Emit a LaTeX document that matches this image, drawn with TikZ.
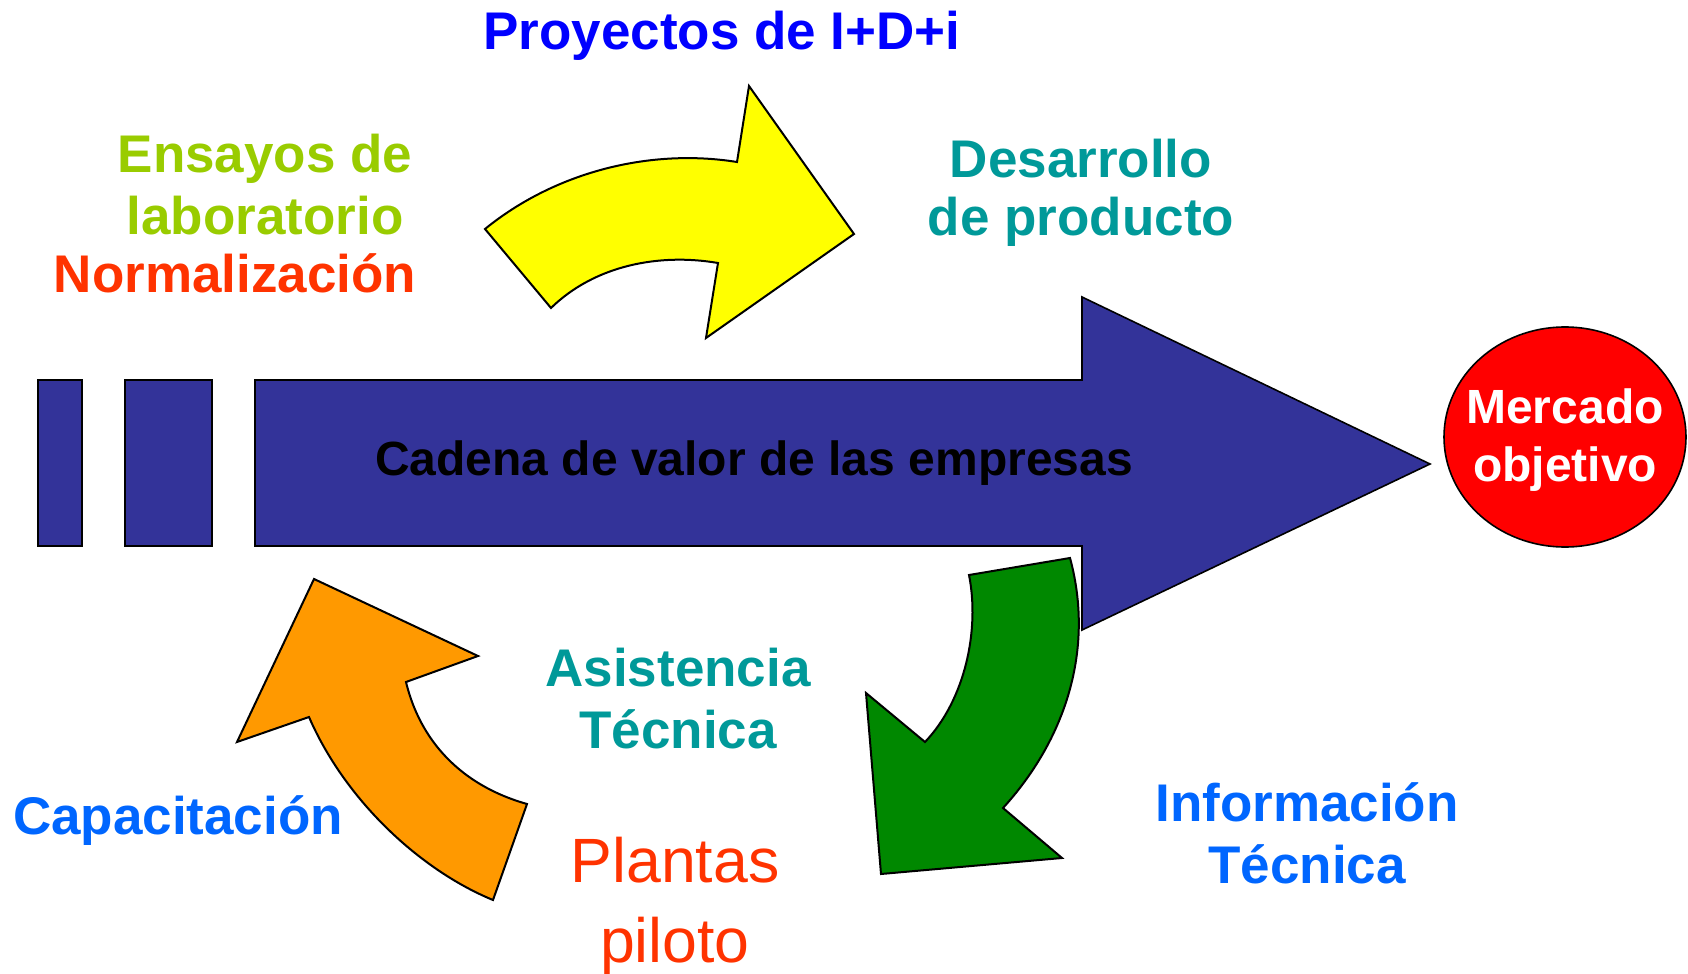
\documentclass[tikz,border=0pt]{standalone}
\usepackage{fontspec}
\setmainfont{Liberation Sans}
\definecolor{azulcad}{HTML}{333399}
\definecolor{verdeflecha}{HTML}{008800}
\definecolor{naranja}{HTML}{FF9900}
\definecolor{amarillo}{HTML}{FFFF00}
\definecolor{rojomer}{HTML}{FF0000}
\definecolor{azulpro}{HTML}{0000FF}
\definecolor{verdelima}{HTML}{99CC00}
\definecolor{rojonorm}{HTML}{FF3300}
\definecolor{turquesa}{HTML}{009999}
\definecolor{celeste}{HTML}{0066FF}

\begin{document}
\begin{tikzpicture}[x=0.5pt, y=-0.5pt,
  contorno/.style={draw=black, line width=1pt, line join=miter},
  rotulo/.style={font=\bfseries\fontsize{26.5}{31}\selectfont, align=center, inner sep=0pt}]
\useasboundingbox (0,0) rectangle (1688,974);

% cadena de valor
\filldraw[contorno, line width=0.8pt, fill=azulcad] (38,380) rectangle (82,546);
\filldraw[contorno, line width=0.8pt, fill=azulcad] (125,380) rectangle (212,546);
\filldraw[contorno, line width=0.8pt, fill=azulcad] (255,380) -- (1082,380) -- (1082,297)
    -- (1430,464) -- (1082,630) -- (1082,546) -- (255,546) -- cycle;

% flechas curvas
\filldraw[contorno, fill=amarillo] (485,229) .. controls (555,172) and (650,148) .. (737,162)
    -- (749,86) -- (854,234) -- (706,338) -- (718,263)
    .. controls (660,253) and (595,265) .. (551,308) -- cycle;
\filldraw[contorno, fill=verdeflecha] (1070,558) -- (969,575)
    .. controls (980,630) and (965,700) .. (925,742)
    -- (866,693) -- (881,874) -- (1062,858) -- (1003,808)
    .. controls (1065,740) and (1095,650) .. (1070,558) -- cycle;
\filldraw[contorno, fill=naranja] (314,579) -- (478,656) -- (406,682)
    .. controls (420,740) and (460,785) .. (527,804)
    -- (493,900) .. controls (420,870) and (345,800) .. (309,717)
    -- (237,742) -- cycle;

\filldraw[contorno, line width=0.8pt, fill=rojomer] (1565,437) ellipse [x radius=121, y radius=110];
\node[rotulo, text=white, font=\bfseries\fontsize{24}{29}\selectfont] (mercado) at (1565,440) {Mercado\\objetivo};

\node[rotulo, font=\bfseries\fontsize{24}{29}\selectfont] (cadena) at (754,463) {Cadena de valor de las empresas};
\node[rotulo, text=azulpro] (proyectos) at (722,36) {Proyectos de I+D+i};
\node[rotulo, text=verdelima] (ensayos) at (265,185) {Ensayos de\\laboratorio};
\node[rotulo, text=rojonorm] (normalizacion) at (235,273) {Normalización};
\node[rotulo, text=turquesa, font=\bfseries\fontsize{26.5}{29}\selectfont] (desarrollo) at (1081,193) {Desarrollo\\de producto};
\node[rotulo, text=turquesa] (asistencia) at (678,699) {Asistencia\\Técnica};
\node[rotulo, text=celeste] (capacitacion) at (178,821) {Capacitación};
\node[rotulo, text=celeste] (informacion) at (1307,833) {Información\\Técnica};
\node[rotulo, text=rojonorm, font=\fontsize{31.3}{40}\selectfont] (plantas) at (675,906) {Plantas\\piloto};
\end{tikzpicture}
\end{document}
